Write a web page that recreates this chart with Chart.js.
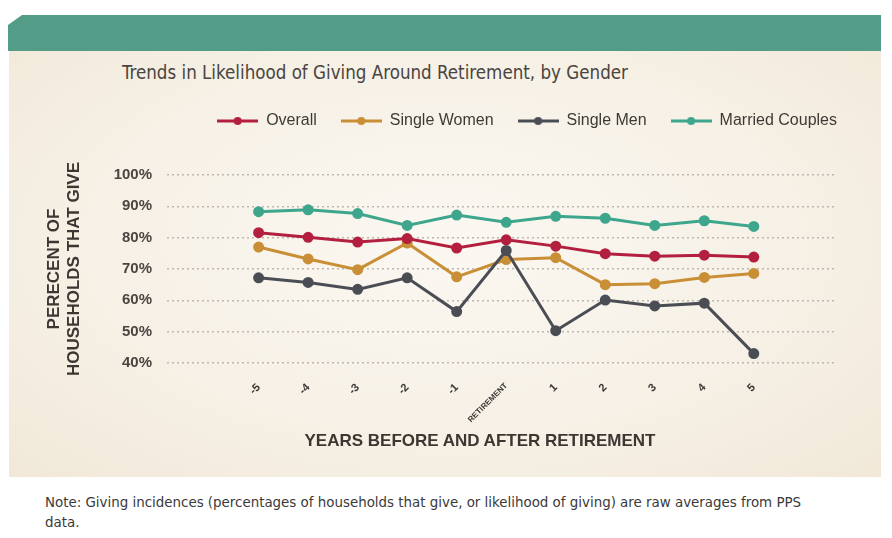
<!DOCTYPE html>
<html>
<head>
<meta charset="utf-8">
<script src="https://cdn.jsdelivr.net/npm/chart.js@4.4.1/dist/chart.umd.min.js"></script>
<style>
    html, body {
        margin: 0;
        padding: 0;
        width: 892px;
        height: 538px;
        overflow: hidden;
        background: #fff;
        font-family: "Liberation Sans Narrow", "DejaVu Sans Condensed", "Liberation Sans", sans-serif;
    }
    #header {
        position: absolute;
        left: 8px;
        top: 15px;
        width: 873px;
        height: 36px;
        background: #539c87;
        clip-path: polygon(14px 0, 100% 0, 100% 100%, 0 100%, 0 10px);
    }
    #panel {
        position: absolute;
        left: 9px;
        top: 51px;
        width: 872px;
        height: 426px;
        background: radial-gradient(ellipse at 50% 45%, #fbf8f2 0%, #f6f0e5 60%, #f1e8d8 100%);
    }
    #title {
        position: absolute;
        left: 122px;
        top: 62px;
        font-size: 18.6px;
        color: #4a4541;
        white-space: nowrap;
    }
    #xtitle {
        position: absolute;
        left: 280px;
        width: 400px;
        top: 431px;
        text-align: center;
        font-family: "Liberation Sans", sans-serif;
        font-weight: bold;
        font-size: 17px;
        color: #3b3733;
        white-space: nowrap;
    }
    #note {
        position: absolute;
        left: 45px;
        top: 492px;
        font-size: 14.9px;
        line-height: 20px;
        color: #3a3a3a;
        white-space: nowrap;
    }
    #chartBox {
        position: absolute;
        left: 9px;
        top: 51px;
        width: 872px;
        height: 426px;
    }
</style>
</head>
<body>
<div id="header"></div>
<div id="panel"></div>
<div id="title">Trends in Likelihood of Giving Around Retirement, by Gender</div>
<div id="chartBox"><canvas id="myChart"></canvas></div>
<div id="xtitle">YEARS BEFORE AND AFTER RETIREMENT</div>
<div id="note">Note: Giving incidences (percentages of households that give, or likelihood of giving) are raw averages from PPS<br>data.</div>

<script>
// years relative to retirement (0 = retirement)
const years = [-5, -4, -3, -2, -1, 0, 1, 2, 3, 4, 5];
const yearLabels = ['-5', '-4', '-3', '-2', '-1', 'RETIREMENT', '1', '2', '3', '4', '5'];

const overall        = [81.6, 80.1, 78.6, 79.7, 76.7, 79.3, 77.3, 74.9, 74.1, 74.4, 73.8];
const singleWomen    = [77.0, 73.2, 69.8, 78.3, 67.5, 73.0, 73.6, 65.0, 65.3, 67.3, 68.6];
const singleMen      = [67.2, 65.7, 63.5, 67.2, 56.4, 75.9, 50.3, 60.1, 58.2, 59.1, 43.0];
const marriedCouples = [88.3, 88.9, 87.7, 83.9, 87.2, 84.9, 86.8, 86.2, 83.9, 85.4, 83.6];

const seriesNames = ['Overall', 'Single Women', 'Single Men', 'Married Couples'];
const seriesColors = ['#b3203f', '#c98f36', '#4a4e54', '#3ea68d'];
const yTicks = [40, 50, 60, 70, 80, 90, 100];

function toPoints(values) {
    return values.map(function(v, i) { return {x: years[i], y: v}; });
}

// little line + dot marker for the legend
function lineMarker(color) {
    const c = document.createElement('canvas');
    c.width = 41;
    c.height = 10;
    const g = c.getContext('2d');
    g.strokeStyle = color;
    g.lineWidth = 3;
    g.beginPath();
    g.moveTo(0, 5);
    g.lineTo(41, 5);
    g.stroke();
    g.fillStyle = color;
    g.beginPath();
    g.arc(20.5, 5, 4, 0, Math.PI * 2);
    g.fill();
    return c;
}

// extra room under the legend
const legendSpace = {
    id: 'legendSpace',
    beforeInit(chart) {
        const fit = chart.legend.fit;
        chart.legend.fit = function() {
            fit.bind(chart.legend)();
            this.height += 36;
        };
    }
};

const allValues = [overall, singleWomen, singleMen, marriedCouples];
const datasets = allValues.map(function(vals, i) {
    return {
        label: seriesNames[i],
        data: toPoints(vals),
        borderColor: seriesColors[i],
        backgroundColor: seriesColors[i],
        pointBackgroundColor: seriesColors[i],
        pointBorderColor: seriesColors[i],
        borderWidth: 3,
        pointRadius: 4,
        tension: 0,
        order: i === 2 ? 0 : i + 1
    };
});

const ctx = document.getElementById('myChart');

new Chart(ctx, {
    type: 'line',
    data: {datasets: datasets},
    options: {
        responsive: true,
        maintainAspectRatio: false,
        animation: false,
        layout: {
            padding: {left: 30, right: 20, top: 38, bottom: 0}
        },
        plugins: {
            legend: {
                align: 'end',
                labels: {
                    usePointStyle: true,
                    pointStyleWidth: 41,
                    padding: 24,
                    color: '#3d3935',
                    font: {family: '"Liberation Sans", sans-serif', size: 16},
                    sort: function(a, b) { return a.datasetIndex - b.datasetIndex; },
                    generateLabels: function(chart) {
                        const items = Chart.defaults.plugins.legend.labels.generateLabels(chart);
                        items.forEach(function(it) {
                            it.pointStyle = lineMarker(seriesColors[it.datasetIndex]);
                        });
                        return items;
                    }
                }
            },
            tooltip: {enabled: false}
        },
        scales: {
            x: {
                type: 'linear',
                min: -6.85,
                max: 6.68,
                afterBuildTicks: function(scale) {
                    scale.ticks = years.map(function(v) { return {value: v}; });
                },
                afterFit: function(scale) {
                    scale.height = 114;
                },
                grid: {display: false, drawTicks: false},
                border: {display: false},
                ticks: {
                    autoSkip: false,
                    minRotation: 45,
                    maxRotation: 45,
                    padding: 18,
                    color: '#3b3733',
                    font: function(c) {
                        if (c.tick && c.tick.value === 0) {
                            return {family: '"Liberation Sans", sans-serif', size: 8, weight: 'bold'};
                        }
                        return {family: '"Liberation Sans", sans-serif', size: 11, weight: 'bold'};
                    },
                    callback: function(value, index) {
                        return yearLabels[index];
                    }
                }
            },
            y: {
                min: 40,
                max: 100,
                afterBuildTicks: function(scale) {
                    scale.ticks = yTicks.map(function(v) { return {value: v}; });
                },
                afterFit: function(scale) {
                    scale.width = 128;
                },
                grid: {
                    color: '#bdb7af',
                    lineWidth: 1.5,
                    drawTicks: false
                },
                border: {display: false, dash: [2, 3]},
                ticks: {
                    padding: 15,
                    color: '#4a4541',
                    font: {family: '"Liberation Sans", sans-serif', size: 15, weight: 'bold'},
                    callback: function(value) {
                        return value + '%';
                    }
                },
                title: {
                    display: true,
                    text: ['PERECENT OF', 'HOUSEHOLDS THAT GIVE'],
                    color: '#3b3733',
                    padding: {top: 6, bottom: 0},
                    font: {family: '"Liberation Sans", sans-serif', size: 17, weight: 'bold', lineHeight: 1.15}
                }
            },
            yr: {
                position: 'right',
                min: 40,
                max: 100,
                afterFit: function(scale) {
                    scale.width = 24;
                },
                grid: {display: false, drawTicks: false},
                border: {display: false},
                ticks: {display: false}
            }
        }
    },
    plugins: [legendSpace]
});
</script>
</body>
</html>
